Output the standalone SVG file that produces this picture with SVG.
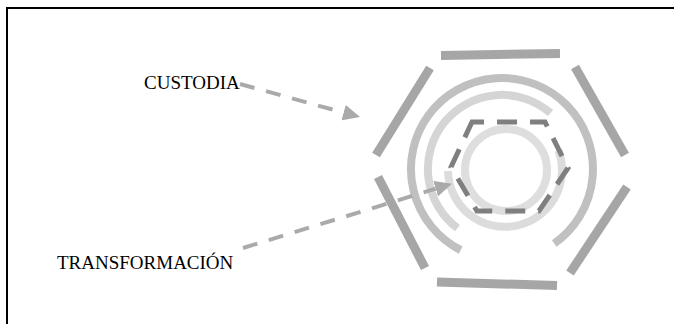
<svg xmlns="http://www.w3.org/2000/svg" width="674" height="324" viewBox="0 0 674 324">
<style>
.frame{fill:none;stroke:#000;stroke-width:2}
.bar{stroke:#a6a6a6;stroke-width:9;fill:none}
.ring{fill:none;stroke-width:8}
.lbl{font-family:"Liberation Serif","Times New Roman",serif;font-size:19px;fill:#000}
.conn{fill:none;stroke:#aaaaaa;stroke-width:4;stroke-dasharray:15 12}
</style>
<defs>
<marker id="ah" markerUnits="userSpaceOnUse" markerWidth="17" markerHeight="16" refX="0" refY="8" orient="auto">
<path d="M0,0 L17,8 L0,16 z" fill="#aaaaaa"/>
</marker>
</defs>
<rect width="674" height="324" fill="#fff"/>
<path class="frame" d="M7,325 V8 H675"/>
<g id="hexagon-outer">
<line class="bar" x1="441" y1="55.5" x2="560" y2="53.5"/>
<line class="bar" x1="437" y1="282" x2="557" y2="285.5"/>
<line class="bar" x1="430" y1="68" x2="376" y2="155"/>
<line class="bar" x1="575" y1="67" x2="625" y2="155"/>
<line class="bar" x1="378" y1="177" x2="425" y2="268"/>
<line class="bar" x1="627" y1="187" x2="570" y2="273"/>
</g>
<g id="rings">
<path class="ring" stroke="#c0c0c0" d="M460.7,250.1 A91,91 0 1 1 554.2,243.5"/>
<path class="ring" stroke="#d5d5d5" d="M457.5,228.1 A74,74 0 1 1 550.5,113.1"/>
<path class="ring" stroke="#dcdcdc" d="M448,171 A57,57 0 1 0 558.6,150.5"/>
<circle class="ring" stroke="#dedede" cx="506" cy="170" r="41"/>
</g>
<g id="hexagon-inner">
<path d="M468.6,129.2 L472,122 L545,122 L568,168 L539,211 L477,211 L451,167 Z" fill="none" stroke="#7f7f7f" stroke-width="5" stroke-dasharray="20 13"/>
</g>
<g id="custodia">
<text class="lbl" x="144" y="89">CUSTODIA</text>
</g>
<g id="transformacion">
<text class="lbl" x="57" y="269">TRANSFORMACIÓN</text>
</g>
<g id="connectors">
<path class="conn" d="M240,84 L343.6,112.6" marker-end="url(#ah)"/>
<path class="conn" d="M243,248 L435.7,188.7" marker-end="url(#ah)"/>
</g>
</svg>
